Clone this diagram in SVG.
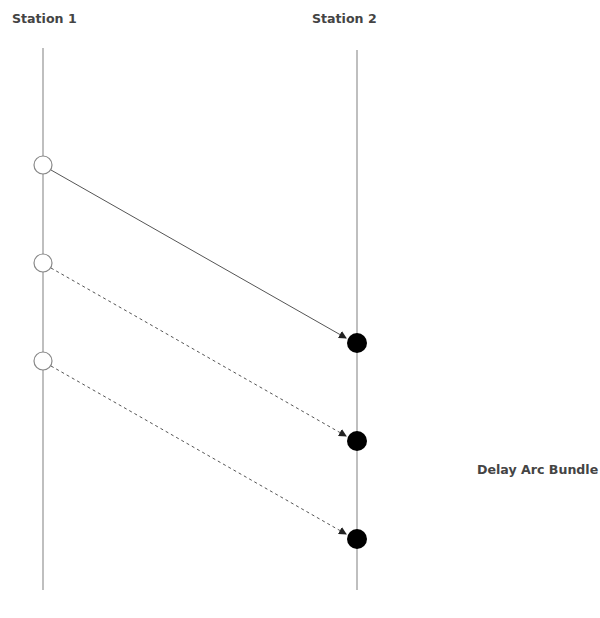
<svg xmlns="http://www.w3.org/2000/svg" width="600" height="618" viewBox="0 0 600 618">
<style>
.lbl{font-family:"DejaVu Sans",Verdana,sans-serif;font-size:12.6px;font-weight:bold;fill:#444;}
.life{stroke:#aaa;stroke-width:1.5;fill:none;}
.src{fill:#fff;stroke:#888;stroke-width:1.2;}
.dst{fill:#000;stroke:none;}
.arc{stroke:#555;stroke-width:1;fill:none;marker-end:url(#ah);}
.dash{stroke-dasharray:3,3;}
</style>
<defs>
<marker id="ah" markerWidth="8" markerHeight="8" refX="7" refY="4" orient="auto" markerUnits="userSpaceOnUse">
<path d="M0,0 L8,4 L0,8 z" fill="#222"/>
</marker>
</defs>
<rect width="600" height="618" fill="#fff"/>
<g id="station1">
<text class="lbl" x="12" y="23">Station 1</text>
<line class="life" x1="43" y1="48" x2="43" y2="590"/>
</g>
<g id="station2">
<text class="lbl" x="312" y="23">Station 2</text>
<line class="life" x1="357" y1="50" x2="357" y2="590"/>
</g>
<g id="connectors">
<line class="arc" x1="51" y1="170" x2="346" y2="338"/>
<line class="arc dash" x1="51" y1="268" x2="346" y2="436"/>
<line class="arc dash" x1="51" y1="366" x2="346" y2="534"/>
</g>
<g id="s1">
<circle class="src" cx="43" cy="165" r="9"/>
</g>
<g id="s2">
<circle class="src" cx="43" cy="263" r="9"/>
</g>
<g id="s3">
<circle class="src" cx="43" cy="361" r="9"/>
</g>
<g id="d1"><circle class="dst" cx="357" cy="343" r="10"/></g>
<g id="d2"><circle class="dst" cx="357" cy="441" r="10"/></g>
<g id="d3"><circle class="dst" cx="357" cy="539" r="10"/></g>
<g id="bundle"><text class="lbl" x="477" y="474">Delay Arc Bundle</text></g>
</svg>
